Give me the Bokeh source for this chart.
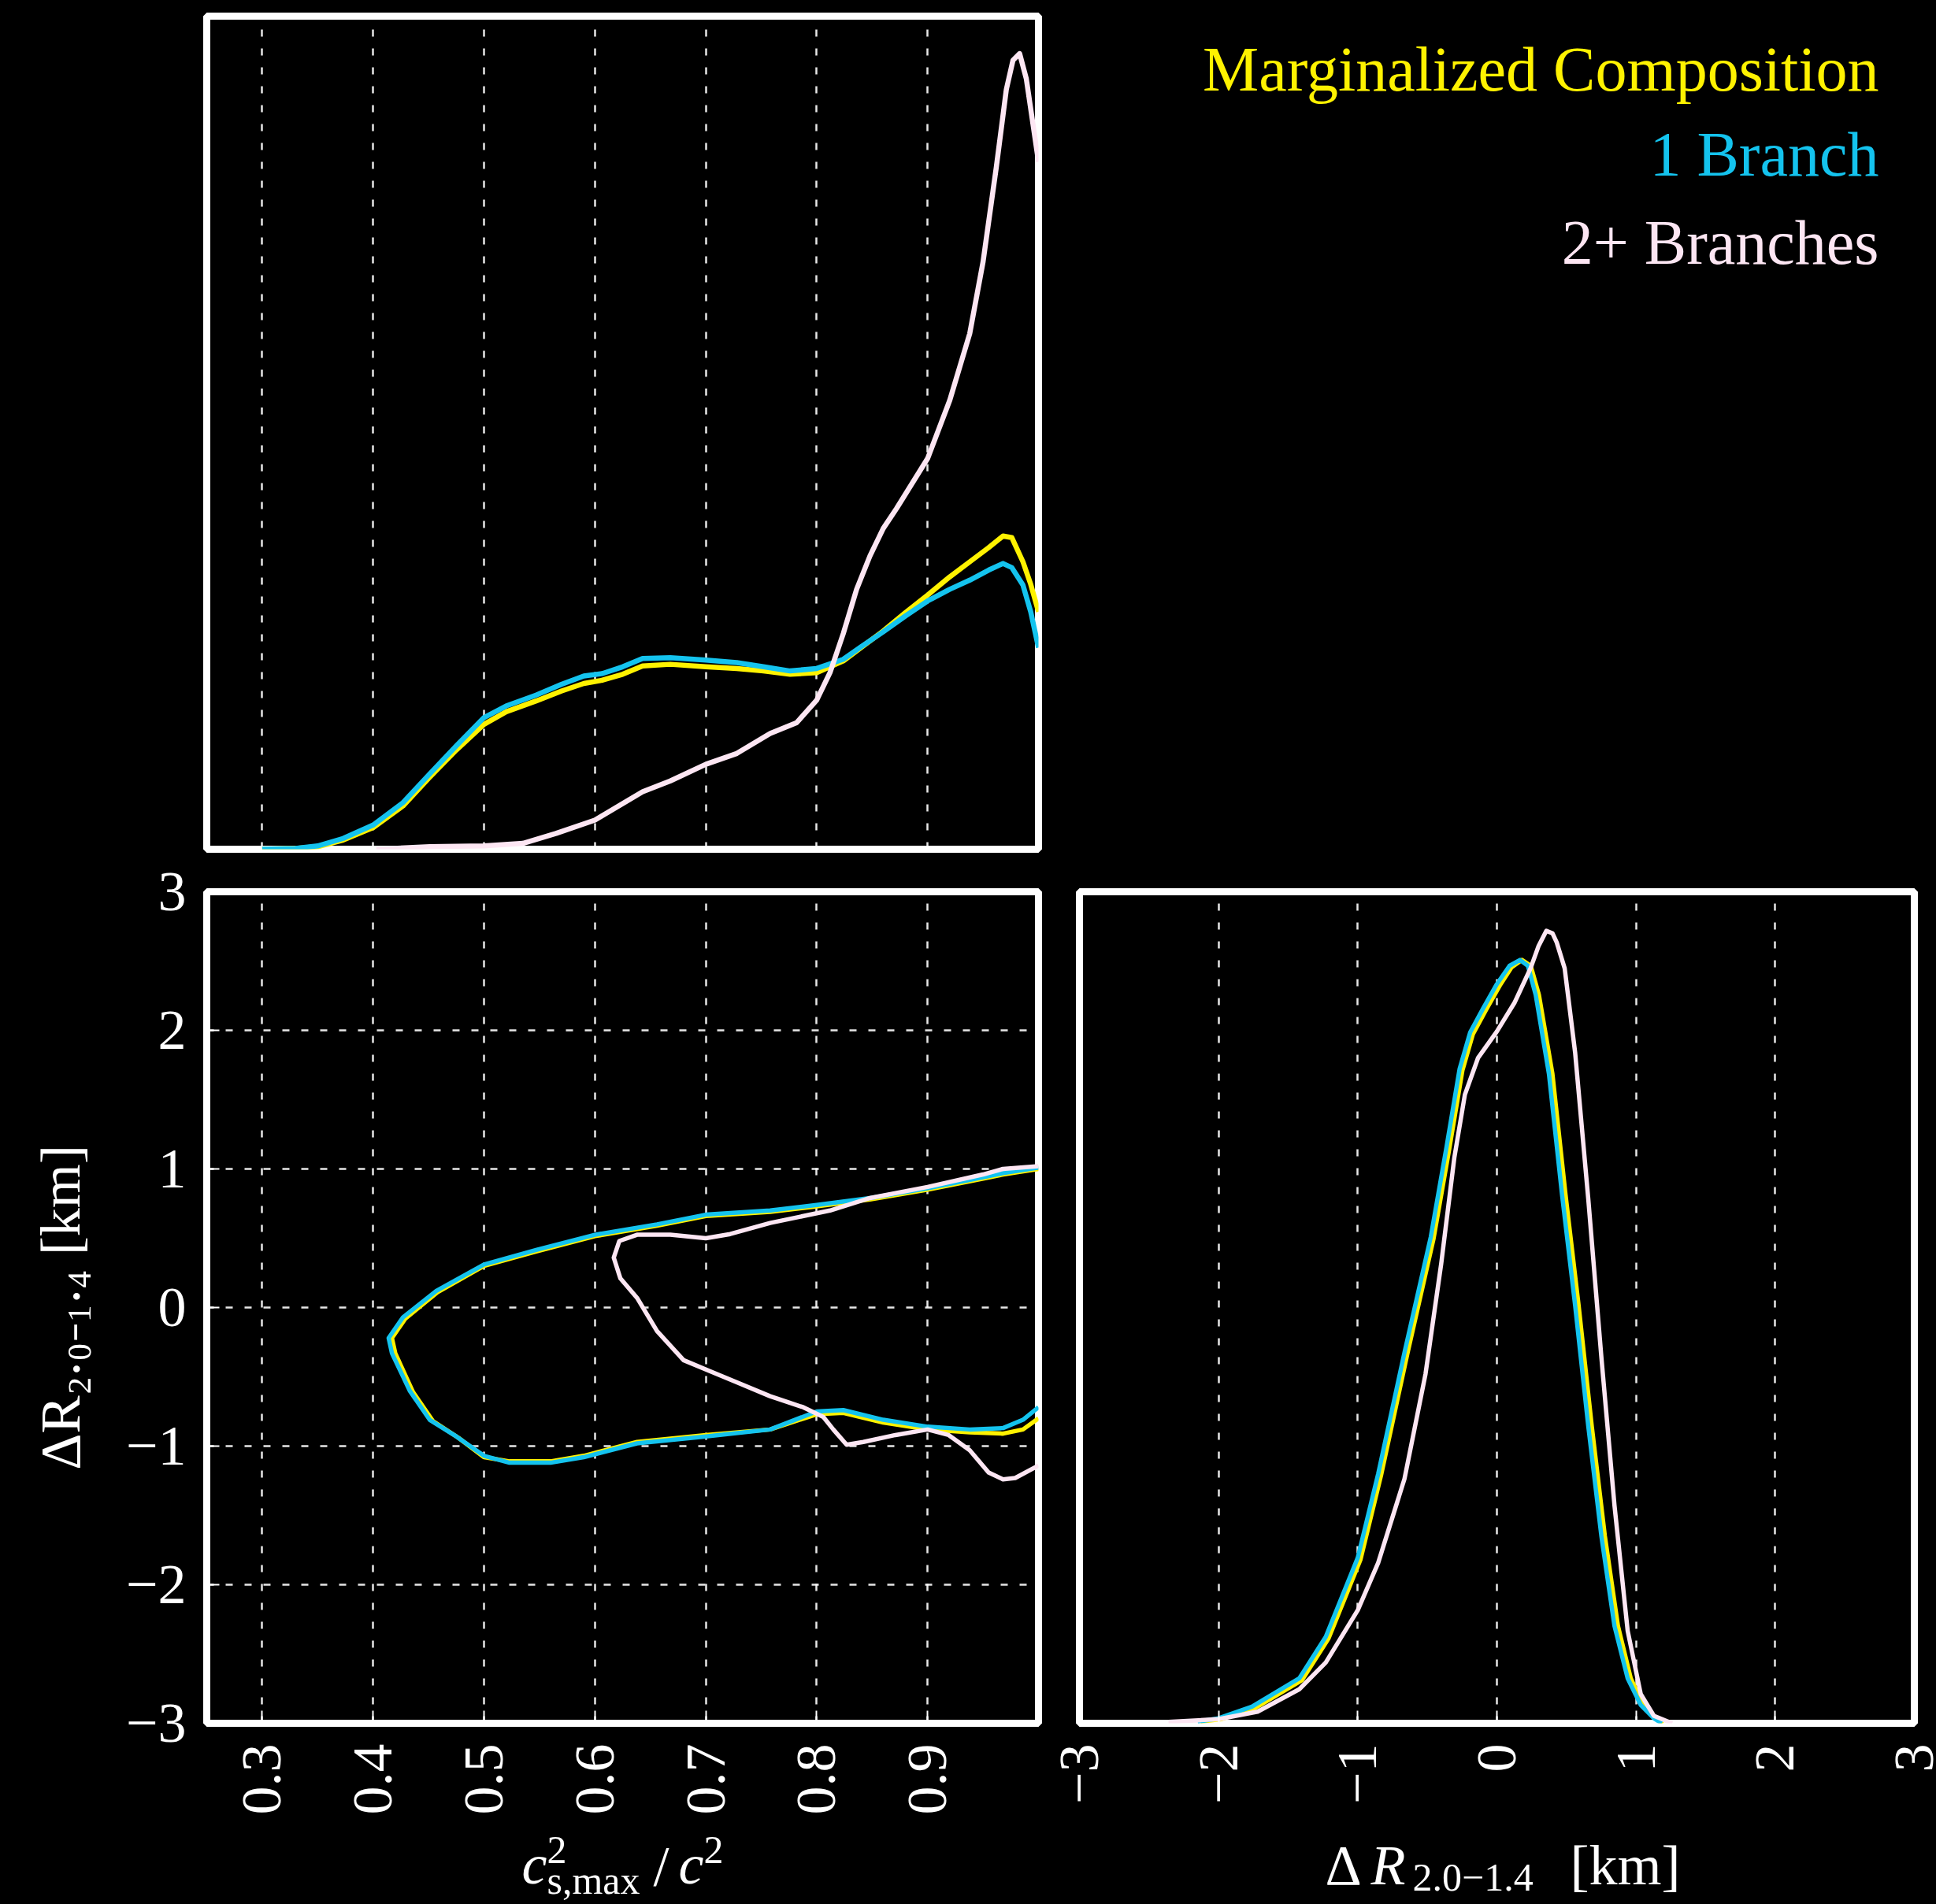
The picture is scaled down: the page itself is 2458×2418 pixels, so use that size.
import math
from bokeh.plotting import figure
from bokeh.models import Range1d, FixedTicker, Label, GlobalInlineStyleSheet
from bokeh.layouts import row, column
from bokeh.embed import file_html
from bokeh.resources import INLINE

# ---------------- data ----------------
series_names = ["Marginalized Composition", "1 Branch", "2+ Branches"]

# top-left: marginal density of c^2_{s,max}/c^2 (arbitrary units)
tl_x = [0.30, 0.33, 0.35, 0.373, 0.40, 0.427, 0.45, 0.475, 0.50, 0.52, 0.547, 0.57, 0.59, 0.607,
        0.625, 0.643, 0.668, 0.70, 0.728, 0.752, 0.776, 0.80, 0.824, 0.84, 0.86, 0.88, 0.90, 0.92,
        0.938, 0.955, 0.968, 0.976, 0.986, 0.993, 1.0]
tl_y_marg = [0.0, 0.001, 0.003, 0.011, 0.026, 0.052, 0.085, 0.119, 0.150, 0.165, 0.178, 0.190, 0.199,
             0.203, 0.210, 0.220, 0.222, 0.219, 0.217, 0.214, 0.210, 0.212, 0.226, 0.242, 0.262, 0.284,
             0.305, 0.327, 0.345, 0.362, 0.376, 0.374, 0.345, 0.318, 0.285]
tl_y_one = [0.0, 0.001, 0.004, 0.013, 0.029, 0.056, 0.089, 0.124, 0.158, 0.172, 0.185, 0.198, 0.208,
            0.211, 0.219, 0.229, 0.230, 0.227, 0.224, 0.219, 0.214, 0.217, 0.228, 0.243, 0.261, 0.280,
            0.298, 0.312, 0.323, 0.335, 0.343, 0.338, 0.317, 0.285, 0.242]
tl_x_multi = [0.403, 0.451, 0.50, 0.535, 0.565, 0.60, 0.643, 0.668, 0.70, 0.728, 0.758, 0.782, 0.80,
              0.812, 0.824, 0.836, 0.848, 0.86, 0.872, 0.90, 0.92, 0.938, 0.95, 0.962, 0.971, 0.977,
              0.983, 0.989, 1.0]
tl_y_multi = [0.0, 0.003, 0.004, 0.007, 0.019, 0.035, 0.069, 0.082, 0.102, 0.115, 0.139, 0.152, 0.179,
              0.212, 0.259, 0.312, 0.352, 0.385, 0.409, 0.469, 0.539, 0.619, 0.705, 0.819, 0.912, 0.947,
              0.955, 0.925, 0.825]

# bottom-left: 2D credible contours (c^2_{s,max}/c^2, Delta R)
bl_x_one = [1.0, 0.968, 0.95, 0.90, 0.848, 0.80, 0.758, 0.70, 0.656, 0.60, 0.547, 0.50, 0.457, 0.427,
            0.414, 0.417, 0.433, 0.451, 0.475, 0.50, 0.523, 0.56, 0.59, 0.638, 0.70, 0.758, 0.80, 0.824,
            0.86, 0.90, 0.938, 0.968, 0.986, 1.0]
bl_y_one = [1.01, 0.97, 0.94, 0.86, 0.79, 0.74, 0.70, 0.67, 0.60, 0.525, 0.415, 0.31, 0.12, -0.07,
            -0.22, -0.33, -0.60, -0.81, -0.93, -1.07, -1.12, -1.12, -1.08, -0.98, -0.93, -0.88, -0.75,
            -0.74, -0.81, -0.86, -0.88, -0.87, -0.81, -0.72]
bl_x_marg = [1.0, 0.968, 0.95, 0.90, 0.848, 0.80, 0.758, 0.70, 0.656, 0.60, 0.547, 0.50, 0.458, 0.429,
             0.417, 0.420, 0.436, 0.454, 0.477, 0.50, 0.523, 0.56, 0.59, 0.638, 0.70, 0.758, 0.80, 0.824,
             0.86, 0.90, 0.938, 0.968, 0.986, 1.0]
bl_y_marg = [1.00, 0.96, 0.93, 0.85, 0.78, 0.73, 0.69, 0.66, 0.59, 0.515, 0.405, 0.30, 0.11, -0.08,
             -0.22, -0.33, -0.61, -0.82, -0.94, -1.08, -1.11, -1.11, -1.07, -0.97, -0.92, -0.88, -0.77,
             -0.76, -0.83, -0.88, -0.90, -0.91, -0.88, -0.80]
bl_x_multi = [1.0, 0.968, 0.95, 0.90, 0.848, 0.812, 0.758, 0.722, 0.70, 0.668, 0.638, 0.622, 0.617,
              0.623, 0.638, 0.656, 0.68, 0.704, 0.728, 0.758, 0.788, 0.806, 0.815, 0.827, 0.842, 0.871,
              0.90, 0.919, 0.938, 0.955, 0.968, 0.979, 1.0]
bl_y_multi = [1.02, 1.0, 0.96, 0.87, 0.79, 0.70, 0.61, 0.53, 0.50, 0.525, 0.525, 0.48, 0.36, 0.21,
              0.07, -0.17, -0.38, -0.46, -0.54, -0.64, -0.72, -0.79, -0.88, -0.99, -0.97, -0.92, -0.88,
              -0.92, -1.03, -1.19, -1.24, -1.23, -1.14]

# bottom-right: marginal density of Delta R_{2.0-1.4} (arbitrary units)
br_x_one = [-2.15, -2.0, -1.76, -1.42, -1.23, -1.0, -0.853, -0.664, -0.475, -0.362, -0.268, -0.192,
            -0.098, 0.0, 0.091, 0.166, 0.223, 0.279, 0.374, 0.468, 0.562, 0.657, 0.751, 0.845, 0.94,
            1.034, 1.128, 1.185]
br_y_one = [0.002, 0.006, 0.02, 0.054, 0.104, 0.199, 0.30, 0.446, 0.585, 0.693, 0.787, 0.831, 0.86,
            0.889, 0.911, 0.918, 0.911, 0.876, 0.781, 0.636, 0.503, 0.357, 0.225, 0.117, 0.054, 0.022,
            0.006, 0.0]
br_x_marg = [-2.13, -1.98, -1.74, -1.40, -1.21, -0.98, -0.833, -0.644, -0.455, -0.342, -0.248, -0.172,
             -0.078, 0.02, 0.105, 0.18, 0.243, 0.302, 0.399, 0.493, 0.587, 0.682, 0.776, 0.87, 0.962,
             1.052, 1.14, 1.195]
br_y_marg = [0.002, 0.005, 0.018, 0.052, 0.102, 0.197, 0.298, 0.444, 0.583, 0.691, 0.785, 0.829, 0.858,
             0.887, 0.909, 0.918, 0.911, 0.876, 0.781, 0.636, 0.503, 0.357, 0.225, 0.117, 0.054, 0.022,
             0.006, 0.0]
br_x_multi = [-2.36, -2.0, -1.72, -1.42, -1.23, -1.0, -0.853, -0.664, -0.513, -0.40, -0.306, -0.23,
              -0.136, 0.0, 0.128, 0.242, 0.30, 0.355, 0.40, 0.43, 0.487, 0.562, 0.657, 0.751, 0.845,
              0.94, 1.034, 1.128, 1.26]
br_y_multi = [0.0016, 0.005, 0.014, 0.041, 0.073, 0.136, 0.193, 0.294, 0.42, 0.553, 0.68, 0.756, 0.80,
              0.832, 0.867, 0.908, 0.935, 0.953, 0.950, 0.939, 0.908, 0.807, 0.63, 0.44, 0.262, 0.111,
              0.035, 0.009, 0.0]

left_xticks = [0.3, 0.4, 0.5, 0.6, 0.7, 0.8, 0.9]
left_xlabels = ["0.3", "0.4", "0.5", "0.6", "0.7", "0.8", "0.9"]
dr_ticks = [-3, -2, -1, 0, 1, 2, 3]
dr_labels = ["\u22123", "\u22122", "\u22121", "0", "1", "2", "3"]
dr_axis_title = "\u0394R\u2082.\u2080\u208b\u2081.\u2084 [km]"

# ---------------- style ----------------
FONT = "Liberation Serif"
YEL = "#fff200"
CYA = "#14c3ee"
WHT = "#fde6f3"
colors = [YEL, CYA, WHT]
TICK_PX = 72
SUB_PX = 50
LEG_PX = 80
LW_TOP = 6.5
LW_BOT = 5.5
BASELINE_FIX = 0.285  # empirical downward offset of Label text (fraction of font size)


def base_fig(w, h, xr, yr, bl, br, bt, bb):
    p = figure(width=w, height=h, x_range=Range1d(*xr), y_range=Range1d(*yr), title=None,
               output_backend="svg", toolbar_location=None,
               min_border_left=bl, min_border_right=br, min_border_top=bt, min_border_bottom=bb)
    p.background_fill_color = "black"
    p.border_fill_color = "black"
    p.outline_line_color = "white"
    p.outline_line_width = 9
    for ax in p.axis:
        ax.axis_line_color = None
        ax.major_tick_line_color = "white"
        ax.major_tick_line_width = 2
        ax.major_tick_in = 16
        ax.major_tick_out = 0
        ax.minor_tick_line_color = None
        ax.major_label_text_color = "white"
        ax.major_label_text_font = FONT
        ax.major_label_text_font_size = f"{TICK_PX}px"
        ax.major_label_standoff = 26
    for g in p.grid:
        g.grid_line_color = "white"
        g.grid_line_alpha = 0.9
        g.grid_line_width = 2.5
        g.grid_line_dash = "9 15"
    return p


def text_fig(w, h):
    p = figure(width=w, height=h, x_range=Range1d(0, w), y_range=Range1d(0, h), title=None,
               output_backend="svg", toolbar_location=None, x_axis_location=None,
               y_axis_location=None, min_border=0)
    p.background_fill_color = "black"
    p.border_fill_color = "black"
    p.outline_line_color = None
    p.grid.visible = False
    return p


def piece(p, px0, py0, h, px, py, text, size=TICK_PX, style="normal", color="white", align="left"):
    """Place text whose baseline starts (or ends) at page pixel (px, py)."""
    p.add_layout(Label(x=px - px0, y=h - (py - py0) + BASELINE_FIX * size, text=text,
                       text_font=FONT, text_font_size=f"{size}px", text_font_style=style,
                       text_color=color, text_align=align, text_baseline="alphabetic"))


# layout sizes (page has no margin): row heights 1088 / 1230 / 98
ROW1_H, ROW2_H, ROW3_H = 1088, 1230, 98
LEFT_W, RIGHT_W = 1328, 1128

# ---------------- top-left ----------------
p_tl = base_fig(LEFT_W, ROW1_H, (0.25, 1.0), (0.0, 1.0), 262, 10, 20, 10)
p_tl.xaxis.visible = False
p_tl.yaxis.visible = False
p_tl.ygrid.visible = False
p_tl.xgrid.ticker = FixedTicker(ticks=left_xticks)
p_tl.line(tl_x, tl_y_marg, line_color=YEL, line_width=LW_TOP, line_join="round")
p_tl.line(tl_x, tl_y_one, line_color=CYA, line_width=LW_TOP, line_join="round")
p_tl.line(tl_x_multi, tl_y_multi, line_color=WHT, line_width=LW_TOP, line_join="round")

# ---------------- legend panel (top-right) ----------------
p_leg = text_fig(RIGHT_W, ROW1_H)
leg_right = 2385
leg_baselines = [92, 203, 318]  # page baselines, corrected for the panel's measured text offset
for name, col, by in zip(series_names, colors, leg_baselines):
    piece(p_leg, LEFT_W, 0, ROW1_H, leg_right, by, name, size=LEG_PX, color=col, align="right")

# ---------------- bottom-left ----------------
p_bl = base_fig(LEFT_W, ROW2_H, (0.25, 1.0), (-3.0, 3.0), 262, 10, 44, 130)
p_bl.xaxis.ticker = FixedTicker(ticks=left_xticks)
p_bl.xaxis.major_label_overrides = dict(zip(left_xticks, left_xlabels))
p_bl.xaxis.major_label_orientation = math.pi / 2
p_bl.yaxis.ticker = FixedTicker(ticks=dr_ticks)
p_bl.yaxis.major_label_overrides = dict(zip(dr_ticks, dr_labels))
p_bl.yaxis.axis_label = dr_axis_title
p_bl.yaxis.axis_label_text_font = FONT
p_bl.yaxis.axis_label_text_font_size = f"{TICK_PX}px"
p_bl.yaxis.axis_label_text_font_style = "normal"
p_bl.yaxis.axis_label_text_color = "white"
p_bl.yaxis.axis_label_standoff = 40
p_bl.line(bl_x_marg, bl_y_marg, line_color=YEL, line_width=LW_BOT, line_join="round")
p_bl.line(bl_x_one, bl_y_one, line_color=CYA, line_width=LW_BOT, line_join="round")
p_bl.line(bl_x_multi, bl_y_multi, line_color=WHT, line_width=LW_BOT, line_join="round")

# ---------------- bottom-right ----------------
p_br = base_fig(RIGHT_W, ROW2_H, (-3.0, 3.0), (0.0, 1.0), 42, 26, 44, 130)
p_br.yaxis.visible = False
p_br.ygrid.visible = False
p_br.xaxis.ticker = FixedTicker(ticks=dr_ticks)
p_br.xaxis.major_label_overrides = dict(zip(dr_ticks, dr_labels))
p_br.xaxis.major_label_orientation = math.pi / 2
p_br.line(br_x_marg, br_y_marg, line_color=YEL, line_width=LW_BOT, line_join="round")
p_br.line(br_x_one, br_y_one, line_color=CYA, line_width=LW_BOT, line_join="round")
p_br.line(br_x_multi, br_y_multi, line_color=WHT, line_width=LW_BOT, line_join="round")

# ---------------- x-axis label panels ----------------
R3Y = ROW1_H + ROW2_H
p_xl = text_fig(LEFT_W, ROW3_H)
p_xr = text_fig(RIGHT_W, ROW3_H)

# c^2_{s,max} / c^2
piece(p_xl, 0, R3Y, ROW3_H, 662, 2388, "c", style="italic")
piece(p_xl, 0, R3Y, ROW3_H, 694, 2363, "2", size=SUB_PX)
piece(p_xl, 0, R3Y, ROW3_H, 694, 2402, "s,max", size=SUB_PX)
piece(p_xl, 0, R3Y, ROW3_H, 829, 2390, "/")
piece(p_xl, 0, R3Y, ROW3_H, 861, 2388, "c", style="italic")
piece(p_xl, 0, R3Y, ROW3_H, 893, 2363, "2", size=SUB_PX)

# Delta R_{2.0-1.4} [km]
piece(p_xr, LEFT_W, R3Y, ROW3_H, 1682, 2389, "\u0394")
piece(p_xr, LEFT_W, R3Y, ROW3_H, 1740, 2389, "R", style="italic")
piece(p_xr, LEFT_W, R3Y, ROW3_H, 1793, 2398, "2.0\u22121.4", size=SUB_PX)
piece(p_xr, LEFT_W, R3Y, ROW3_H, 1993, 2389, "[km]")

root = column(row(p_tl, p_leg), row(p_bl, p_br), row(p_xl, p_xr))
root.stylesheets = [GlobalInlineStyleSheet(css="html, body { background-color: #000000; }")]

open("out.html", "w").write(file_html(root, INLINE))
